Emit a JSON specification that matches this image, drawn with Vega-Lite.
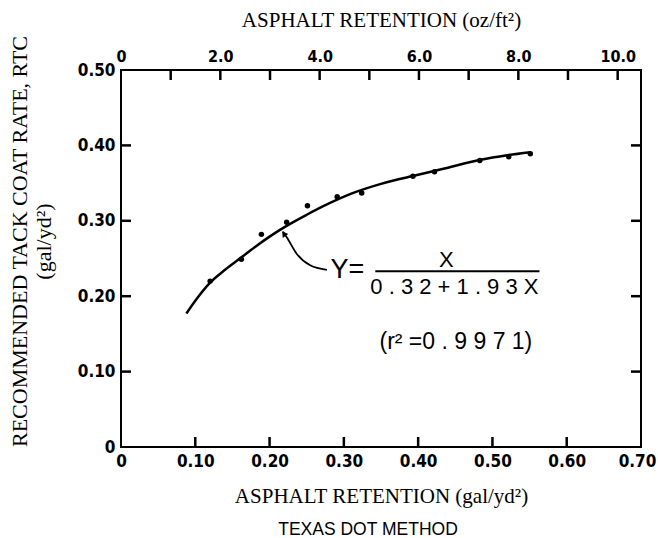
{
  "$schema": "https://vega.github.io/schema/vega-lite/v6.json",
  "width": 520,
  "height": 377,
  "autosize": {"type": "none"},
  "padding": {"left": 121, "top": 70, "right": 17, "bottom": 91},
  "background": "white",
  "title": {
    "text": "TEXAS DOT METHOD",
    "orient": "bottom",
    "font": "Liberation Sans",
    "fontSize": 17.5,
    "fontWeight": "normal",
    "color": "black",
    "offset": 15,
    "dx": -13
  },
  "config": {
    "view": {"stroke": "black", "strokeWidth": 2},
    "axis": {
      "domain": false,
      "grid": false,
      "ticks": false,
      "labelColor": "black",
      "labelFont": "DejaVu Sans Condensed, Liberation Sans Narrow, sans-serif",
      "labelFontWeight": "bold",
      "labelFontSize": 17,
      "labelPadding": 6,
      "titleColor": "black",
      "titleFont": "Liberation Serif",
      "titleFontWeight": "normal",
      "titleFontSize": 21
    }
  },
  "layer": [
    {
      "layer": [
        {
          "data": {
            "values": [
              {"x": 0.088, "y": 0.177},
              {"x": 0.10, "y": 0.194},
              {"x": 0.12, "y": 0.218},
              {"x": 0.14, "y": 0.235},
              {"x": 0.16, "y": 0.250},
              {"x": 0.18, "y": 0.265},
              {"x": 0.20, "y": 0.279},
              {"x": 0.214, "y": 0.288},
              {"x": 0.25, "y": 0.308},
              {"x": 0.28, "y": 0.323},
              {"x": 0.31, "y": 0.336},
              {"x": 0.35, "y": 0.349},
              {"x": 0.40, "y": 0.361},
              {"x": 0.434, "y": 0.369},
              {"x": 0.484, "y": 0.381},
              {"x": 0.52, "y": 0.387},
              {"x": 0.551, "y": 0.391}
            ]
          },
          "mark": {"type": "line", "color": "black", "strokeWidth": 2.5, "interpolate": "monotone"},
          "encoding": {
            "x": {
              "field": "x",
              "type": "quantitative",
              "scale": {"domain": [0, 0.7], "nice": false, "zero": false},
              "axis": {
                "orient": "bottom",
                "values": [0, 0.1, 0.2, 0.3, 0.4, 0.5, 0.6, 0.7],
                "labelExpr": "datum.value == 0 ? '0' : format(datum.value, '.2f')",
                "labelFlush": false,
                "labelOffset": {"condition": {"test": "datum.value >= 0.69", "value": -4}, "value": 0},
                "title": "ASPHALT RETENTION (gal/yd²)",
                "titlePadding": 16
              }
            },
            "y": {
              "field": "y",
              "type": "quantitative",
              "scale": {"domain": [0, 0.5], "nice": false},
              "axis": {
                "orient": "left",
                "values": [0, 0.1, 0.2, 0.3, 0.4, 0.5],
                "labelExpr": "datum.value == 0 ? '0' : format(datum.value, '.2f')",
                "labelFlush": false,
                "title": ["RECOMMENDED TACK COAT RATE, RTC", "(gal/yd²)"],
                "titleFontSize": 22,
                "titleLineHeight": 24,
                "titlePadding": 22,
                "titleY": 171
              }
            }
          }
        },
        {
          "data": {
            "values": [
              {"x1": 0.1, "x2": 0.1, "y1": 0, "y2": 0.0133},
              {"x1": 0.2, "x2": 0.2, "y1": 0, "y2": 0.0133},
              {"x1": 0.3, "x2": 0.3, "y1": 0, "y2": 0.0133},
              {"x1": 0.4, "x2": 0.4, "y1": 0, "y2": 0.0133},
              {"x1": 0.5, "x2": 0.5, "y1": 0, "y2": 0.0133},
              {"x1": 0.6, "x2": 0.6, "y1": 0, "y2": 0.0133},
              {"x1": 0.0669, "x2": 0.0669, "y1": 0.5, "y2": 0.4867},
              {"x1": 0.1337, "x2": 0.1337, "y1": 0.5, "y2": 0.4867},
              {"x1": 0.2006, "x2": 0.2006, "y1": 0.5, "y2": 0.4867},
              {"x1": 0.2674, "x2": 0.2674, "y1": 0.5, "y2": 0.4867},
              {"x1": 0.3343, "x2": 0.3343, "y1": 0.5, "y2": 0.4867},
              {"x1": 0.4011, "x2": 0.4011, "y1": 0.5, "y2": 0.4867},
              {"x1": 0.4680, "x2": 0.4680, "y1": 0.5, "y2": 0.4867},
              {"x1": 0.5349, "x2": 0.5349, "y1": 0.5, "y2": 0.4867},
              {"x1": 0.6017, "x2": 0.6017, "y1": 0.5, "y2": 0.4867},
              {"x1": 0.6686, "x2": 0.6686, "y1": 0.5, "y2": 0.4867},
              {"x1": 0, "x2": 0.0135, "y1": 0.1, "y2": 0.1},
              {"x1": 0, "x2": 0.0135, "y1": 0.2, "y2": 0.2},
              {"x1": 0, "x2": 0.0135, "y1": 0.3, "y2": 0.3},
              {"x1": 0, "x2": 0.0135, "y1": 0.4, "y2": 0.4},
              {"x1": 0.6865, "x2": 0.7, "y1": 0.1, "y2": 0.1},
              {"x1": 0.6865, "x2": 0.7, "y1": 0.2, "y2": 0.2},
              {"x1": 0.6865, "x2": 0.7, "y1": 0.3, "y2": 0.3},
              {"x1": 0.6865, "x2": 0.7, "y1": 0.4, "y2": 0.4}
            ]
          },
          "mark": {"type": "rule", "color": "#000000", "strokeWidth": 2.5, "opacity": 1},
          "encoding": {
            "x": {"field": "x1", "type": "quantitative"},
            "x2": {"field": "x2"},
            "y": {"field": "y1", "type": "quantitative"},
            "y2": {"field": "y2"}
          }
        },
        {
          "data": {
            "values": [
              {"x": 0.120, "y": 0.220},
              {"x": 0.162, "y": 0.249},
              {"x": 0.189, "y": 0.282},
              {"x": 0.223, "y": 0.298},
              {"x": 0.251, "y": 0.320},
              {"x": 0.291, "y": 0.332},
              {"x": 0.324, "y": 0.337},
              {"x": 0.393, "y": 0.359},
              {"x": 0.422, "y": 0.365},
              {"x": 0.483, "y": 0.380},
              {"x": 0.522, "y": 0.385},
              {"x": 0.551, "y": 0.389}
            ]
          },
          "mark": {"type": "point", "filled": true, "color": "black", "size": 30, "opacity": 1},
          "encoding": {
            "x": {"field": "x", "type": "quantitative"},
            "y": {"field": "y", "type": "quantitative"}
          }
        },
        {
          "data": {
            "values": [
              {"x": 0.2180, "y": 0.2855, "o": 1},
              {"x": 0.2233, "y": 0.2780, "o": 2},
              {"x": 0.2367, "y": 0.2560, "o": 3},
              {"x": 0.2547, "y": 0.2410, "o": 4},
              {"x": 0.2772, "y": 0.2350, "o": 5}
            ]
          },
          "mark": {"type": "line", "color": "black", "strokeWidth": 1.8, "interpolate": "monotone"},
          "encoding": {
            "x": {"field": "x", "type": "quantitative"},
            "y": {"field": "y", "type": "quantitative"},
            "order": {"field": "o"}
          }
        },
        {
          "data": {"values": [{"x": 0.2192, "y": 0.2830}]},
          "mark": {"type": "point", "shape": "triangle-up", "filled": true, "color": "black", "size": 45, "angle": 325, "opacity": 1},
          "encoding": {
            "x": {"field": "x", "type": "quantitative"},
            "y": {"field": "y", "type": "quantitative"}
          }
        },
        {
          "data": {"values": [{"x1": 0.3423, "x2": 0.5633, "y": 0.2330}]},
          "mark": {"type": "rule", "color": "black", "strokeWidth": 2},
          "encoding": {
            "x": {"field": "x1", "type": "quantitative"},
            "x2": {"field": "x2"},
            "y": {"field": "y", "type": "quantitative"}
          }
        },
        {
          "data": {"values": [{"x": 0.3046, "y": 0.2341, "t": "Y="}]},
          "mark": {"type": "text", "font": "Liberation Sans", "fontSize": 27, "color": "black", "align": "center", "baseline": "middle"},
          "encoding": {
            "x": {"field": "x", "type": "quantitative"},
            "y": {"field": "y", "type": "quantitative"},
            "text": {"field": "t"}
          }
        },
        {
          "data": {"values": [{"x": 0.438, "y": 0.2474, "t": "X"}]},
          "mark": {"type": "text", "font": "Liberation Sans", "fontSize": 22, "color": "black", "align": "center", "baseline": "middle"},
          "encoding": {
            "x": {"field": "x", "type": "quantitative"},
            "y": {"field": "y", "type": "quantitative"},
            "text": {"field": "t"}
          }
        },
        {
          "data": {"values": [{"x": 0.4488, "y": 0.2116, "t": "0 . 3 2 + 1 . 9 3 X"}]},
          "mark": {"type": "text", "font": "Liberation Sans", "fontSize": 22, "color": "black", "align": "center", "baseline": "middle"},
          "encoding": {
            "x": {"field": "x", "type": "quantitative"},
            "y": {"field": "y", "type": "quantitative"},
            "text": {"field": "t"}
          }
        },
        {
          "data": {"values": [{"x": 0.4508, "y": 0.1389, "t": "(r² =0 . 9 9 7 1)"}]},
          "mark": {"type": "text", "font": "Liberation Sans", "fontSize": 23, "color": "black", "align": "center", "baseline": "middle"},
          "encoding": {
            "x": {"field": "x", "type": "quantitative"},
            "y": {"field": "y", "type": "quantitative"},
            "text": {"field": "t"}
          }
        }
      ]
    },
    {
      "data": {"values": [{"oz": 0, "y": 0}, {"oz": 10.47, "y": 0.5}]},
      "mark": {"type": "point", "opacity": 0},
      "encoding": {
        "x": {
          "field": "oz",
          "type": "quantitative",
          "scale": {"domain": [0, 10.47], "nice": false, "zero": false},
          "axis": {
            "orient": "top",
            "values": [0, 2, 4, 6, 8, 10],
            "labelExpr": "datum.value == 0 ? '0' : format(datum.value, '.1f')",
            "labelFlush": false,
            "labelFontSize": 16,
            "title": "ASPHALT RETENTION (oz/ft²)",
            "titlePadding": 18
          }
        },
        "y": {
          "field": "y",
          "type": "quantitative",
          "scale": {"domain": [0, 0.5], "nice": false},
          "axis": null
        }
      }
    }
  ],
  "resolve": {"scale": {"x": "independent"}, "axis": {"x": "independent", "y": "independent"}}
}
